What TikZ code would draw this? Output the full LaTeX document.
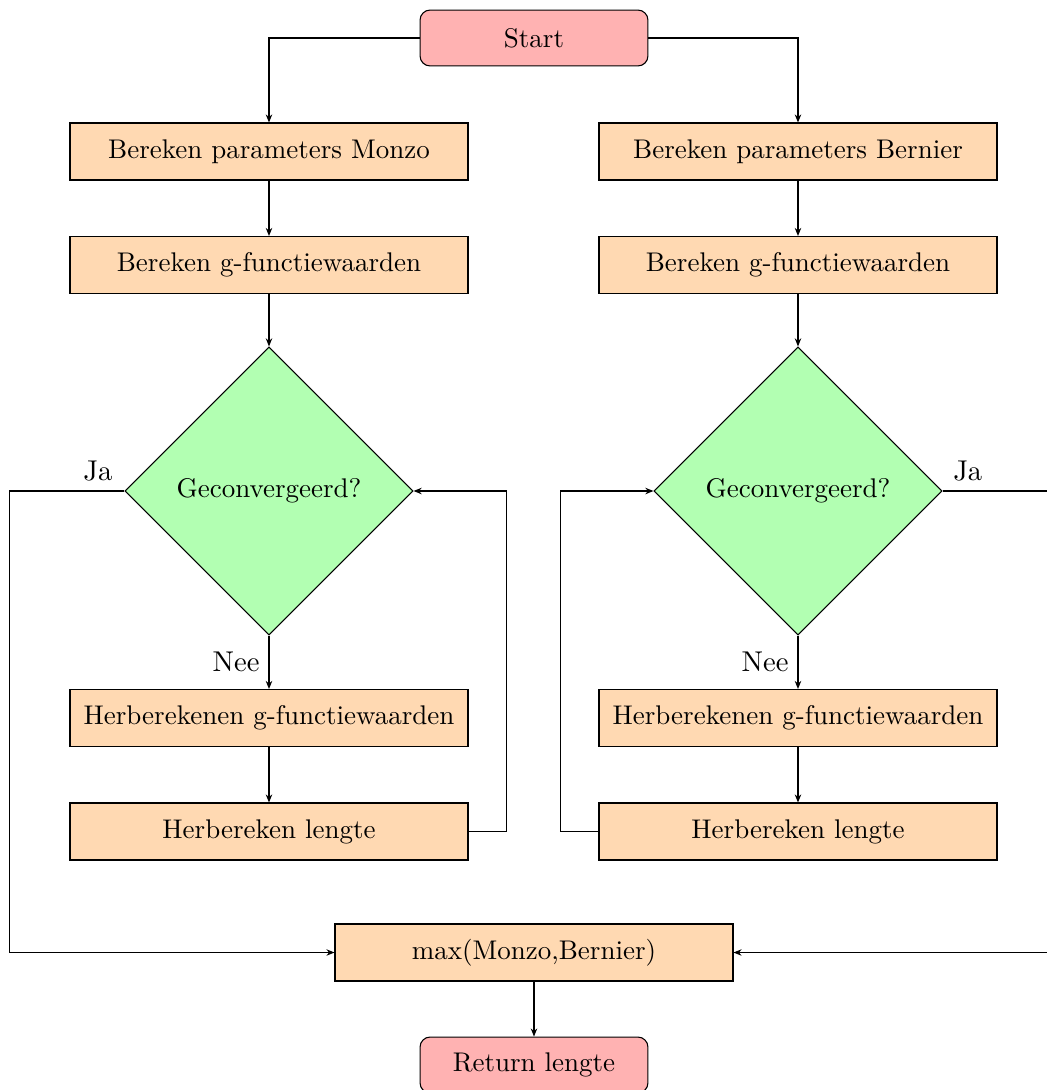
\documentclass[tikz,border=0pt]{standalone}
\usetikzlibrary{shapes.geometric,arrows.meta}
\begin{document}
\begin{tikzpicture}[x=0.3704pt,y=-0.3704pt,
  every node/.style={font=\fontsize{10}{12}\selectfont},
  terminal/.style={draw, fill=red!30, rounded corners=3.7pt, minimum width=84.4pt, minimum height=20.7pt, inner sep=0pt},
  process/.style={draw, fill=orange!30, minimum width=147.4pt, minimum height=21.1pt, inner sep=0pt},
  decision/.style={draw, diamond, fill=green!30, minimum width=106.7pt, minimum height=106.7pt, inner sep=0pt},
  flow/.style={-{Stealth[length=3pt,width=2.4pt]}},
  edgelabel/.style={font=\fontsize{10.6}{12}\selectfont},
]
\useasboundingbox (0,0) rectangle (1047,1090);

% start / end
\node[terminal] (start) at (534,38) {Start};
\node[terminal] (ret) at (534,1065) {Return lengte};

% Monzo branch
\node[process] (L1) at (269,151.5) {Bereken parameters Monzo};
\node[process] (L2) at (269,265) {Bereken g-functiewaarden};
\node[decision] (Ld) at (269,491) {Geconvergeerd?};
\node[process] (L4) at (269,718) {Herberekenen g-functiewaarden};
\node[process] (L5) at (269,831.5) {Herbereken lengte};

% Bernier branch
\node[process] (R1) at (798,151.5) {Bereken parameters Bernier};
\node[process] (R2) at (798,265) {Bereken g-functiewaarden};
\node[decision] (Rd) at (798,491) {Geconvergeerd?};
\node[process] (R4) at (798,718) {Herberekenen g-functiewaarden};
\node[process] (R5) at (798,831.5) {Herbereken lengte};

% combine
\node[process] (max) at (534,952.5) {max(Monzo,Bernier)};

% connectors
\draw[flow] (start.west) -| (L1.north);
\draw[flow] (start.east) -| (R1.north);

\draw[flow] (L1) -- (L2);
\draw[flow] (L2) -- (Ld);
\draw[flow] (Ld) -- node[left,edgelabel]{Nee} (L4);
\draw[flow] (L4) -- (L5);
\draw[flow] (L5.east) -- ++(38,0) |- (Ld.east);
\draw[flow] (Ld.west) -- node[above,pos=0.23,edgelabel]{Ja} ++(-115,0) |- (max.west);

\draw[flow] (R1) -- (R2);
\draw[flow] (R2) -- (Rd);
\draw[flow] (Rd) -- node[left,edgelabel]{Nee} (R4);
\draw[flow] (R4) -- (R5);
\draw[flow] (R5.west) -- ++(-38,0) |- (Rd.west);
\draw[flow] (Rd.east) -- node[above,pos=0.21,edgelabel]{Ja} ++(120,0) |- (max.east);

\draw[flow] (max) -- (ret);
\end{tikzpicture}
\end{document}
